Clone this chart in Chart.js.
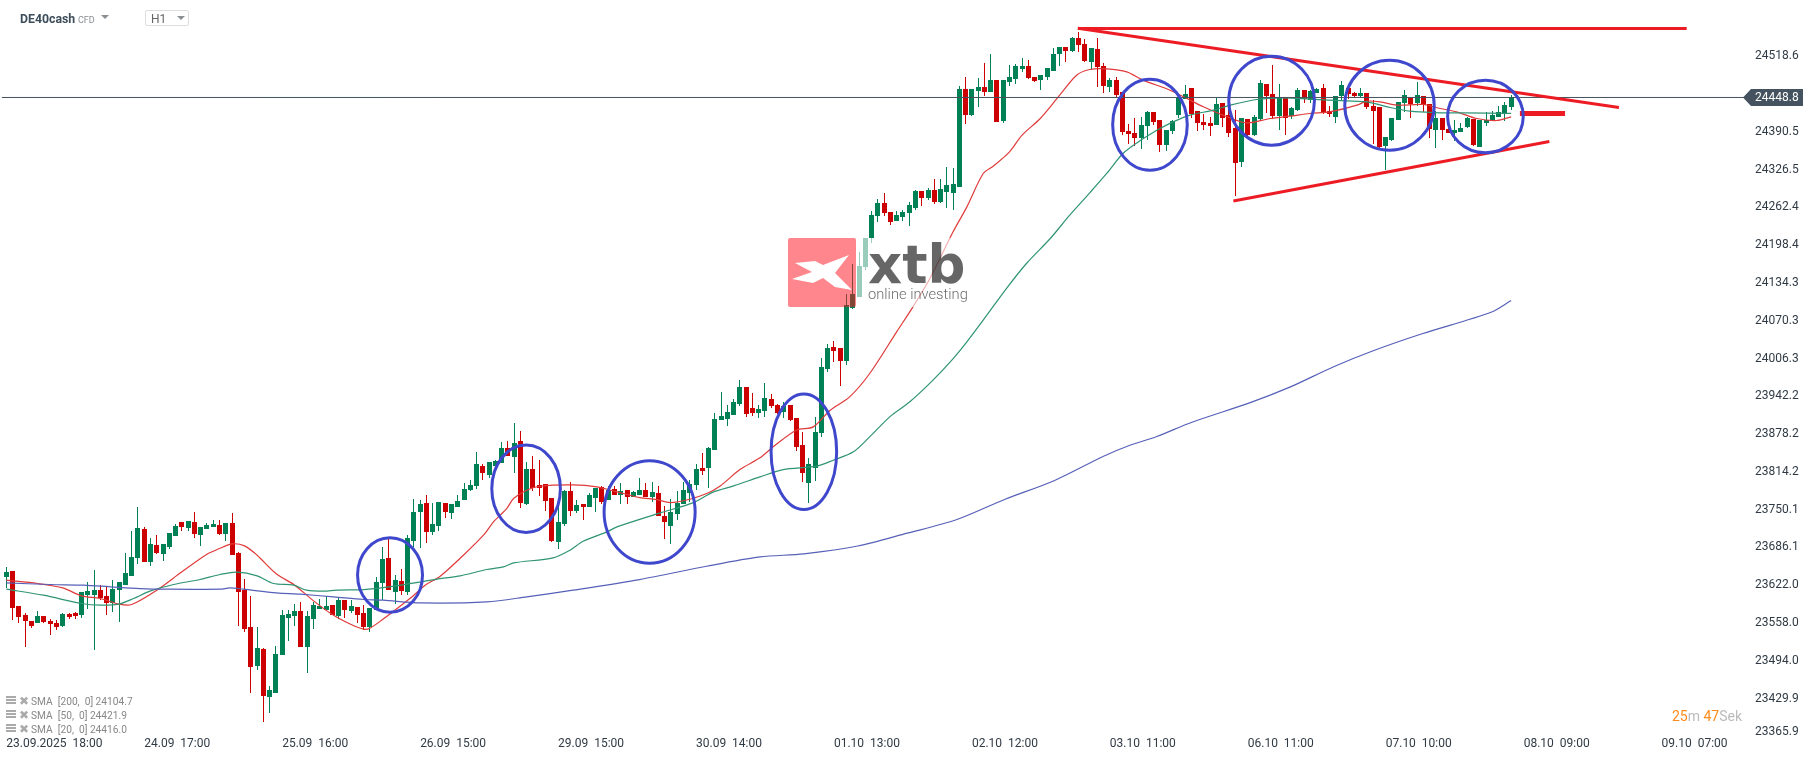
<!DOCTYPE html>
<html>
<head>
<meta charset="utf-8">
<title>DE40cash H1</title>
<script src="https://cdn.jsdelivr.net/npm/chart.js@4"></script>
<style>
    html, body { margin: 0; padding: 0; background: #fff; overflow: hidden; }
    body { width: 1815px; height: 761px; position: relative; font-family: Roboto, sans-serif; }
    #chart { position: absolute; left: 0; top: 0; }
    .label { position: absolute; white-space: pre; line-height: 14px; }
    .tri { position: absolute; width: 0; height: 0; border-left: 4px solid transparent; border-right: 4px solid transparent; border-top: 4px solid #8a8f94; }
    .stripes { position: absolute; left: 6px; width: 10px; height: 8px; background: repeating-linear-gradient(#aaa 0 2px, #fff 2px 3px); }
</style>
</head>
<body>
<canvas id="chart" width="1815" height="761"></canvas>

<span class="label" style="left:20px;top:12px;font-size:12.3px;font-weight:700;color:#3d4d5a">DE40cash</span>
<span class="label" style="left:78px;top:13px;font-size:9px;color:#8a8f94">CFD</span>
<div class="tri" style="left:101px;top:15px"></div>
<div style="position:absolute;left:145px;top:10px;width:42px;height:14px;border:1px solid #ddd;border-radius:2px"></div>
<span class="label" style="left:151px;top:12px;font-size:12px;color:#666">H1</span>
<div class="tri" style="left:177px;top:16px"></div>

<div class="stripes" style="top:696px"></div>
<div class="stripes" style="top:710px"></div>
<div class="stripes" style="top:724px"></div>
<span class="label" style="left:19px;top:694px;font-size:12px;color:#aaa">✖</span>
<span class="label" style="left:19px;top:708px;font-size:12px;color:#aaa">✖</span>
<span class="label" style="left:19px;top:722px;font-size:12px;color:#aaa">✖</span>
<span class="label" style="left:31px;top:695px;font-size:10.2px;color:#888">SMA  [200,  0] 24104.7</span>
<span class="label" style="left:31px;top:709px;font-size:10.2px;color:#888">SMA  [50,  0] 24421.9</span>
<span class="label" style="left:31px;top:723px;font-size:10.2px;color:#888">SMA  [20,  0] 24416.0</span>

<span class="label" style="left:1672px;top:709px;font-size:14px;color:#bbb"><span style="color:#ff8c1a">25</span>m <span style="color:#ff8c1a">47</span>Sek</span>

<script>
const candleOpen = [
    23636, 23646, 23587, 23571, 23561, 23558, 23570, 23561, 23558, 23553,
    23573, 23575, 23571, 23605, 23605, 23614, 23604, 23592, 23614, 23622,
    23637, 23668, 23717, 23661, 23690, 23675, 23687, 23705, 23729, 23719,
    23729, 23707, 23717, 23720, 23724, 23709, 23727, 23676, 23614, 23551,
    23485, 23514, 23432, 23439, 23504, 23566, 23570, 23578, 23517, 23565,
    23581, 23580, 23588, 23570, 23597, 23578, 23585, 23575, 23551, 23580,
    23626, 23668, 23610, 23629, 23610, 23697, 23746, 23761, 23712, 23722,
    23761, 23744, 23754, 23766, 23783, 23790, 23825, 23809, 23824, 23829,
    23854, 23839, 23866, 23759, 23819, 23792, 23793, 23770, 23695, 23726,
    23781, 23748, 23759, 23754, 23770, 23788, 23766, 23785, 23775, 23783,
    23771, 23775, 23783, 23771, 23778, 23739, 23722, 23742, 23759, 23778,
    23792, 23820, 23820, 23851, 23902, 23904, 23910, 23929, 23958, 23922,
    23914, 23917, 23937, 23927, 23915, 23927, 23905, 23859, 23795, 23820,
    23880, 23988, 24026, 24024, 24002, 24092, 24110, 24161, 24210, 24248,
    24270, 24254, 24239, 24246, 24253, 24261, 24290, 24278, 24292, 24271,
    24288, 24287, 24297, 24463, 24419, 24460, 24466, 24458, 24478, 24409,
    24475, 24480, 24497, 24502, 24483, 24478, 24483, 24493, 24522, 24534,
    24527, 24549, 24539, 24509, 24531, 24502, 24466, 24478, 24458, 24392,
    24388, 24380, 24400, 24424, 24410, 24368, 24392, 24419, 24446, 24465,
    24426, 24407, 24405, 24402, 24439, 24419, 24397, 24339, 24412, 24385,
    24412, 24471, 24454, 24417, 24449, 24417, 24427, 24461, 24444, 24456,
    24465, 24426, 24415, 24451, 24465, 24456, 24451, 24456, 24434, 24432,
    24366, 24376, 24410, 24439, 24449, 24439, 24451, 24437, 24393, 24414,
    24395, 24388, 24390, 24398, 24412, 24365, 24405, 24409, 24415, 24420, 24432
];
const candleHigh = [
    23653, 23646, 23587, 23575, 23561, 23578, 23570, 23565, 23563, 23575,
    23575, 23576, 23610, 23627, 23648, 23622, 23620, 23631, 23627, 23676,
    23714, 23754, 23720, 23702, 23707, 23692, 23710, 23726, 23729, 23731,
    23746, 23720, 23727, 23732, 23732, 23727, 23744, 23678, 23632, 23604,
    23551, 23515, 23451, 23519, 23580, 23580, 23590, 23593, 23578, 23593,
    23598, 23604, 23588, 23602, 23597, 23597, 23585, 23588, 23583, 23636,
    23687, 23700, 23639, 23649, 23707, 23768, 23766, 23775, 23761, 23763,
    23761, 23759, 23775, 23795, 23800, 23848, 23827, 23831, 23834, 23865,
    23866, 23897, 23883, 23831, 23841, 23834, 23793, 23770, 23770, 23783,
    23797, 23766, 23759, 23778, 23787, 23790, 23790, 23790, 23795, 23783,
    23781, 23804, 23795, 23797, 23790, 23756, 23768, 23781, 23797, 23800,
    23827, 23846, 23856, 23914, 23949, 23927, 23937, 23970, 23958, 23948,
    23927, 23965, 23946, 23929, 23932, 23927, 23905, 23881, 23837, 23907,
    24007, 24031, 24036, 24024, 24115, 24166, 24187, 24210, 24256, 24276,
    24287, 24254, 24256, 24258, 24271, 24292, 24290, 24295, 24310, 24310,
    24331, 24329, 24468, 24483, 24463, 24482, 24507, 24522, 24478, 24478,
    24504, 24505, 24515, 24512, 24483, 24487, 24499, 24532, 24534, 24534,
    24551, 24560, 24548, 24532, 24549, 24507, 24482, 24483, 24458, 24404,
    24414, 24415, 24426, 24424, 24410, 24393, 24410, 24449, 24470, 24465,
    24426, 24420, 24415, 24448, 24439, 24427, 24427, 24414, 24412, 24419,
    24478, 24471, 24504, 24471, 24449, 24432, 24465, 24461, 24461, 24465,
    24471, 24434, 24451, 24476, 24465, 24458, 24465, 24456, 24444, 24432,
    24381, 24414, 24441, 24461, 24449, 24475, 24451, 24437, 24426, 24414,
    24405, 24410, 24405, 24415, 24412, 24410, 24424, 24426, 24434, 24441, 24453
];
const candleLow = [
    23617, 23563, 23558, 23518, 23550, 23558, 23558, 23538, 23546, 23552,
    23565, 23565, 23566, 23581, 23512, 23597, 23571, 23576, 23559, 23622,
    23637, 23658, 23661, 23654, 23675, 23663, 23683, 23705, 23714, 23714,
    23702, 23688, 23717, 23720, 23707, 23697, 23673, 23553, 23543, 23439,
    23478, 23390, 23405, 23439, 23504, 23527, 23553, 23517, 23473, 23548,
    23581, 23580, 23571, 23565, 23566, 23575, 23558, 23546, 23543, 23580,
    23597, 23614, 23590, 23605, 23605, 23687, 23685, 23693, 23707, 23714,
    23736, 23734, 23754, 23766, 23781, 23785, 23800, 23804, 23824, 23829,
    23841, 23812, 23753, 23758, 23781, 23773, 23748, 23695, 23683, 23722,
    23739, 23744, 23732, 23754, 23746, 23759, 23766, 23775, 23759, 23759,
    23771, 23775, 23771, 23763, 23739, 23700, 23692, 23732, 23759, 23763,
    23783, 23809, 23787, 23851, 23902, 23892, 23910, 23926, 23907, 23909,
    23905, 23907, 23922, 23912, 23905, 23900, 23849, 23797, 23761, 23798,
    23873, 23983, 24000, 23959, 23995, 24090, 24110, 24156, 24202, 24238,
    24248, 24232, 24239, 24239, 24231, 24258, 24265, 24275, 24268, 24270,
    24261, 24258, 24297, 24404, 24417, 24432, 24451, 24458, 24407, 24405,
    24468, 24471, 24492, 24480, 24475, 24461, 24478, 24493, 24502, 24509,
    24526, 24526, 24509, 24495, 24466, 24456, 24458, 24449, 24385, 24370,
    24366, 24361, 24376, 24402, 24356, 24358, 24387, 24414, 24446, 24414,
    24392, 24393, 24383, 24402, 24398, 24381, 24281, 24331, 24383, 24383,
    24410, 24422, 24412, 24393, 24385, 24412, 24426, 24439, 24439, 24456,
    24420, 24415, 24405, 24444, 24446, 24449, 24449, 24429, 24370, 24363,
    24326, 24375, 24410, 24424, 24414, 24434, 24424, 24380, 24363, 24376,
    24388, 24375, 24390, 24397, 24366, 24365, 24400, 24409, 24415, 24409, 24427
];
const candleClose = [
    23644, 23584, 23568, 23561, 23553, 23570, 23559, 23557, 23552, 23573,
    23568, 23570, 23610, 23612, 23614, 23600, 23592, 23615, 23627, 23642,
    23670, 23719, 23661, 23692, 23676, 23692, 23710, 23722, 23720, 23731,
    23709, 23720, 23724, 23726, 23709, 23727, 23673, 23610, 23548, 23483,
    23515, 23434, 23444, 23505, 23571, 23573, 23578, 23517, 23570, 23588,
    23587, 23587, 23571, 23597, 23580, 23587, 23571, 23551, 23583, 23627,
    23666, 23614, 23631, 23612, 23702, 23746, 23759, 23712, 23726, 23763,
    23746, 23759, 23765, 23785, 23792, 23827, 23812, 23831, 23832, 23854,
    23841, 23863, 23761, 23819, 23787, 23787, 23765, 23697, 23729, 23781,
    23748, 23758, 23754, 23775, 23787, 23763, 23783, 23775, 23781, 23771,
    23780, 23783, 23771, 23780, 23739, 23729, 23746, 23761, 23783, 23793,
    23819, 23815, 23854, 23904, 23909, 23915, 23932, 23958, 23912, 23914,
    23920, 23939, 23926, 23914, 23926, 23902, 23856, 23812, 23827, 23881,
    23992, 24024, 24019, 24002, 24097, 24115, 24163, 24210, 24249, 24270,
    24253, 24238, 24249, 24254, 24266, 24290, 24278, 24292, 24271, 24293,
    24300, 24302, 24463, 24419, 24463, 24466, 24458, 24478, 24407, 24478,
    24483, 24502, 24502, 24482, 24476, 24487, 24499, 24522, 24534, 24527,
    24549, 24538, 24510, 24532, 24500, 24468, 24478, 24453, 24390, 24387,
    24380, 24402, 24424, 24407, 24368, 24393, 24409, 24449, 24454, 24420,
    24405, 24402, 24400, 24437, 24414, 24388, 24337, 24414, 24385, 24415,
    24473, 24451, 24417, 24449, 24414, 24431, 24461, 24446, 24459, 24463,
    24424, 24420, 24451, 24470, 24454, 24451, 24456, 24432, 24426, 24365,
    24381, 24414, 24441, 24453, 24437, 24453, 24436, 24395, 24414, 24393,
    24388, 24393, 24397, 24414, 24368, 24410, 24410, 24419, 24424, 24436, 24449
];

// moving averages at the bars where they bend
const sma20Bars = [0, 5, 9, 12, 15, 18, 20, 24, 28, 32, 34, 36, 38, 40, 43, 46, 49, 52, 55, 57, 58, 60, 63, 65,
    66.8, 69.2, 72.9, 76.1, 77.7, 79.8, 80.9, 83, 85.1, 90.4, 94.2, 97.4, 101, 103.7, 105.9, 109, 111.7, 113.8, 117, 120.2,
    122.3, 126, 128.7, 131.4, 134.5, 137.7, 142, 144.6, 147.3, 151, 153.2, 155.8, 157.4, 160, 162, 164.9, 168, 170.7, 172.8,
    175.5, 178.7, 181.3, 185.6, 188.3, 190.9, 194.1, 197.8, 201.6, 204.7, 207.9, 211.1, 215.4, 217, 219.1, 221.8, 226, 228.7, 231.3, 234.5, 237.7, 240];
const sma20 = [23630.6, 23625, 23617.6, 23604, 23599.6, 23590, 23589.4, 23613.7, 23644.8, 23674.7, 23684.3, 23692.2, 23688.8, 23673, 23642, 23622.2, 23595.6, 23572.5, 23555.5, 23547.6, 23549.3, 23564, 23588.3, 23605.2,
    23622.1, 23637.4, 23673, 23706.9, 23729.5, 23752, 23769, 23783.2, 23789.9, 23792.2, 23788.8, 23780.3, 23770.7, 23767.3, 23762.2, 23767.9, 23777.5, 23789.9, 23818.2, 23838,
    23856.7, 23884.9, 23890.5, 23918.8, 23941.4, 23981, 24051.6, 24093.9, 24142, 24221.1, 24263.4, 24319.9, 24332.4, 24356.7, 24384.9, 24413.2, 24452.7, 24486.6, 24496.2,
    24497.4, 24492.3, 24478.2, 24461.2, 24447.1, 24433, 24418.8, 24405.8, 24413.2, 24417.1, 24421.7, 24424.5, 24435.8, 24442.6, 24441.4, 24435.8, 24436.9, 24430.1, 24424.5, 24413.2, 24409.8, 24416];

const sma50Bars = [0, 5.9, 12, 15, 17.9, 20.3, 22.9, 26.7, 30.9, 34.1, 36.8, 40, 42.6, 45.8, 47.9, 50.6, 52.7, 57, 61, 66,
    69.2, 72.4, 76.6, 79.3, 80.9, 87.2, 89.9, 92, 95.8, 97.4, 104.3, 109.6, 112.8, 116, 120.2,
    123.9, 129.2, 131.9, 135.1, 137.7, 140.9, 144.1, 147.8, 150.8, 153.2, 155.8, 159.5, 162.7, 166.5, 169.6, 172.8,
    175.5, 178.1, 180.8, 183.5, 186.1, 188.8, 192.5, 195.2, 199.4, 203.7, 207.9, 213.8, 217, 220.7, 223.9, 227.6, 232.4, 240];
const sma50 = [23615.4, 23605.2, 23591.1, 23588.3, 23590, 23599.6, 23612, 23623.3, 23631.8, 23640.3, 23644.2, 23638, 23625, 23622.2, 23613.7, 23612, 23613.7, 23614.8, 23619.4, 23627.5,
    23633.4, 23637.9, 23648.7, 23653.2, 23660, 23668.5, 23681.5, 23696.7, 23712.5, 23721, 23744.7, 23762.2, 23780.3, 23790.5, 23805.7,
    23818.2, 23823.9, 23834, 23848.2, 23873.6, 23907.5, 23933, 23969.7, 24003.6, 24034.6, 24071.4, 24125, 24167.4, 24209.8, 24249.3, 24287.2,
    24320, 24353.8, 24375.3, 24393.4, 24407.5, 24418.8, 24427.3, 24435.8, 24445.4, 24448.2, 24445.9, 24443.1, 24441.4, 24431.8, 24425.6, 24423.3, 24422.8, 24421.9];

const sma200Bars = [0, 7, 12.3, 16.6, 21.3, 25.6, 34.1, 35.7, 37.8, 43.1, 46.9, 52.2, 57, 60.1, 66, 76.6, 83, 90.4, 101, 111.7, 120.2,
    127.2, 135.8, 143.7, 151.5, 159.3, 167.1, 175, 178.9, 183.5, 189.1, 198.5, 204.7, 211.7, 218, 225.8, 236.8, 240];
const sma200 = [23626.1, 23623.3, 23622.2, 23619.4, 23616.5, 23615.4, 23615.4, 23617.6, 23615.4, 23609.2, 23606.9, 23602.4, 23597.9, 23596.7, 23592.2, 23593.9, 23602.4, 23613.7, 23631.7, 23654.3, 23670,
    23675.4, 23688.6, 23710.3, 23733, 23767.9, 23799.3, 23840.8, 23858.1, 23874.2, 23898.4, 23932, 23957.8, 23992.5, 24019.6, 24048.4, 24084.9, 24104.7];

// hand drawn trend lines
const trendTopBars = [170.9, 268];
const trendTopPrices = [24565.8, 24565.8];
const trendFallBars = [170.9, 257.2];
const trendFallPrices = [24566.3, 24431.8];
const trendRiseBars = [195.7, 246.1];
const trendRisePrices = [24273.5, 24374.2];
const trendStubBars = [241.4, 248.6];
const trendStubPrices = [24421.7, 24421.7];

// hand drawn ellipses, centre and radius in bars and price
const ellipseBars = [61.2, 82.9, 102.6, 127.2, 182.4, 201.8, 220.6, 235.9];
const ellipsePrices = [23639.4, 23785.7, 23746.2, 23848.4, 24402.7, 24443.4, 24435.8, 24416.6];
const ellipseBarRadius = [5.18, 5.47, 7.26, 5.23, 5.95, 6.83, 7.13, 6.03];
const ellipsePriceRadius = [63.1, 74.2, 86.8, 98, 77.1, 75.4, 76.3, 61.5];

const lastPrice = 24448.8;
const priceTicks = [24518.6, 24390.5, 24326.5, 24262.4, 24198.4, 24134.3, 24070.3, 24006.3, 23942.2, 23878.2,
    23814.2, 23750.1, 23686.1, 23622.0, 23558.0, 23494.0, 23429.9, 23365.9];
const timeTickBars = [0, 22, 44, 66, 88, 110, 132, 154, 176, 198, 220, 242, 264];
const timeTickLabels = ['23.09.2025  18:00', '24.09  17:00', '25.09  16:00', '26.09  15:00', '29.09  15:00', '30.09  14:00',
    '01.10  13:00', '02.10  12:00', '03.10  11:00', '06.10  11:00', '07.10  10:00', '08.10  09:00', '09.10  07:00'];

const GREEN = '#008055';
const RED = '#cc0000';
const barColors = candleClose.map((c, i) => (c >= candleOpen[i] ? GREEN : RED));

function toPoints(xs, ys) {
    return xs.map((x, i) => ({ x: x, y: ys[i] }));
}

function lineDataset(xs, ys, color, width, order, tension) {
    return {
        type: 'line',
        data: toPoints(xs, ys),
        borderColor: color,
        borderWidth: width,
        pointRadius: 0,
        tension: tension || 0,
        order: order
    };
}

function barDataset(lower, upper, thickness, order) {
    return {
        type: 'bar',
        data: lower.map((v, i) => ({ x: i, y: [v, upper[i]] })),
        backgroundColor: barColors,
        barThickness: thickness,
        grouped: false,
        inflateAmount: 0,
        borderWidth: 0,
        order: order
    };
}

const bodyLow = candleOpen.map((o, i) => Math.min(o, candleClose[i]));
const bodyHigh = candleOpen.map((o, i) => Math.max(o, candleClose[i]));

// no label padding, the plot runs edge to edge like on the platform
function clearPadding(scale) {
    scale.paddingTop = 0;
    scale.paddingBottom = 0;
    scale.paddingLeft = 0;
    scale.paddingRight = 0;
}

// snap candles to whole pixels, the platform draws them crisp
const snapBars = {
    id: 'snapBars',
    afterDatasetsUpdate(chart) {
        chart.getSortedVisibleDatasetMetas().forEach(meta => {
            if (meta.type !== 'bar') return;
            meta.data.forEach(el => {
                el.x = Math.floor(el.x) + 0.5;
                el.y = Math.round(el.y);
                el.base = Math.round(el.base);
            });
        });
    }
};

function drawEllipses(chart) {
    const { ctx, scales } = chart;
    ctx.save();
    ctx.strokeStyle = '#3f47cc';
    ctx.lineWidth = 3;
    ellipseBars.forEach((bar, i) => {
        const cx = scales.x.getPixelForValue(bar);
        const cy = scales.y.getPixelForValue(ellipsePrices[i]);
        const rx = scales.x.getPixelForValue(bar + ellipseBarRadius[i]) - cx;
        const ry = cy - scales.y.getPixelForValue(ellipsePrices[i] + ellipsePriceRadius[i]);
        ctx.beginPath();
        ctx.ellipse(cx, cy, rx, ry, 0, 0, Math.PI * 2);
        ctx.stroke();
    });
    ctx.restore();
}

function drawWatermark(ctx) {
    ctx.save();
    ctx.fillStyle = 'rgba(255,255,255,0.6)';
    ctx.fillRect(856, 238, 116, 69);

    ctx.fillStyle = 'rgba(255,13,26,0.5)';
    ctx.beginPath();
    ctx.roundRect(788, 238, 68, 69, 2);
    ctx.fill();

    const shape = [[795, 263], [815, 261], [823, 265], [849, 255], [835, 273], [852, 290], [835, 287], [823, 278], [813, 283], [792, 279], [812, 272]];
    ctx.fillStyle = '#fff';
    ctx.beginPath();
    shape.forEach((p, i) => (i ? ctx.lineTo(p[0], p[1]) : ctx.moveTo(p[0], p[1])));
    ctx.closePath();
    ctx.fill();

    ctx.fillStyle = 'rgba(0,0,0,0.6)';
    ctx.textBaseline = 'alphabetic';
    ctx.textAlign = 'left';
    ctx.font = 'bold 53px "DejaVu Sans"';
    ctx.fillText('xtb', 868, 283);
    ctx.font = '300 14.7px Roboto';
    ctx.fillText('online investing', 868, 299);
    ctx.restore();
}

function drawPriceTag(chart) {
    const { ctx, scales } = chart;
    const y = scales.y.getPixelForValue(lastPrice);
    ctx.save();
    ctx.fillStyle = '#44535f';
    ctx.beginPath();
    ctx.moveTo(1743, y);
    ctx.lineTo(1751, y - 8.5);
    ctx.lineTo(1803, y - 8.5);
    ctx.lineTo(1803, y + 8.5);
    ctx.lineTo(1751, y + 8.5);
    ctx.closePath();
    ctx.fill();
    ctx.fillStyle = '#fff';
    ctx.font = '12px Roboto';
    ctx.textAlign = 'left';
    ctx.textBaseline = 'middle';
    ctx.fillText(lastPrice.toFixed(1), 1755, y + 1);
    ctx.restore();
}

const overlays = {
    id: 'overlays',
    afterDatasetsDraw(chart) {
        drawEllipses(chart);
        drawWatermark(chart.ctx);
    },
    afterDraw(chart) {
        drawPriceTag(chart);
    }
};

new Chart(document.getElementById('chart').getContext('2d'), {
    type: 'bar',
    data: {
        datasets: [
            lineDataset(trendTopBars, trendTopPrices, '#ed1c24', 3, 1),
            lineDataset(trendFallBars, trendFallPrices, '#ed1c24', 3, 1),
            lineDataset(trendRiseBars, trendRisePrices, '#ed1c24', 3, 1),
            lineDataset(trendStubBars, trendStubPrices, '#ed1c24', 5, 1),
            lineDataset([-0.7, 280], [lastPrice, lastPrice], '#44535f', 1, 2),
            lineDataset(sma200Bars, sma200, '#5660b8', 1.2, 3, 0.3),
            lineDataset(sma50Bars, sma50, '#2f9474', 1.2, 3, 0.3),
            lineDataset(sma20Bars, sma20, '#e03a3a', 1.2, 3, 0.3),
            barDataset(bodyLow, bodyHigh, 5, 5),
            barDataset(candleLow, candleHigh, 1, 6)
        ]
    },
    plugins: [snapBars, overlays],
    options: {
        responsive: false,
        animation: false,
        devicePixelRatio: 1,
        layout: { padding: 0, autoPadding: false },
        plugins: {
            legend: { display: false },
            title: { display: false },
            tooltip: { enabled: false }
        },
        scales: {
            x: {
                type: 'linear',
                min: -1.005,
                max: 277.3,
                offset: false,
                grid: { display: false, drawTicks: false },
                border: { display: false },
                afterBuildTicks: scale => {
                    scale.ticks = timeTickBars.map(v => ({ value: v }));
                },
                afterFit: scale => {
                    scale.height = 24;
                    clearPadding(scale);
                },
                ticks: {
                    autoSkip: false,
                    maxRotation: 0,
                    align: 'start',
                    padding: 0,
                    color: '#2f3a44',
                    font: { family: 'Roboto', size: 12 },
                    callback: value => timeTickLabels[timeTickBars.indexOf(value)]
                }
            },
            y: {
                type: 'linear',
                position: 'right',
                min: 23364.85,
                max: 24614.06,
                grid: { display: false, drawTicks: false },
                border: { display: false },
                afterBuildTicks: scale => {
                    scale.ticks = priceTicks.map(v => ({ value: v }));
                },
                afterFit: scale => {
                    scale.width = 70;
                    clearPadding(scale);
                },
                ticks: {
                    autoSkip: false,
                    padding: 10,
                    color: '#2f3a44',
                    font: { family: 'Roboto', size: 12, lineHeight: 0.75 },
                    // the lowest label sits a little above its level, the platform keeps it off the edge
                    callback: (value, i, ticks) => (i === ticks.length - 1 ? [value.toFixed(1), ''] : value.toFixed(1))
                }
            }
        }
    }
});
</script>
</body>
</html>
